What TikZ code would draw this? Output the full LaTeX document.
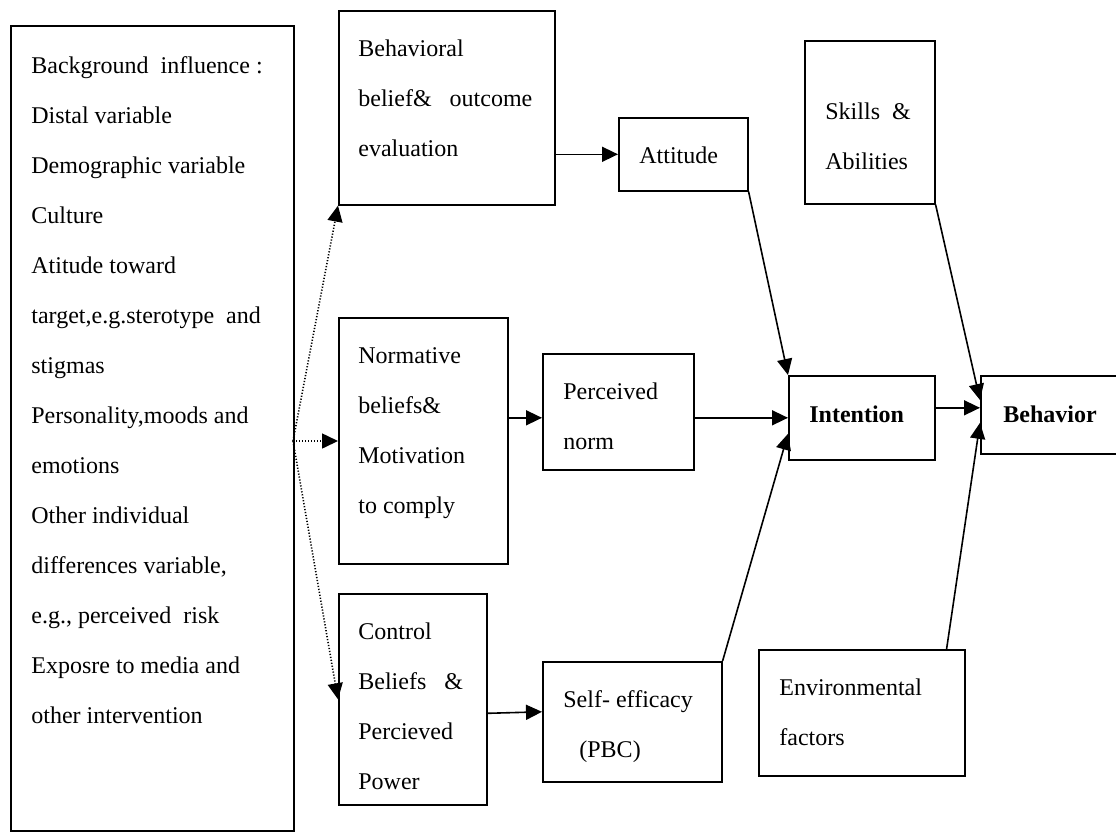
\documentclass[tikz,border=0pt]{standalone}
\usepackage{fontspec}
\setmainfont{Liberation Serif}
\usetikzlibrary{arrows.meta, positioning}

\tikzset{
  box/.style={draw, line width=0.8pt, rectangle, inner sep=0pt, anchor=north west},
  txt/.style={anchor=base west, inner sep=0pt, align=left, font=\fontsize{12pt}{25pt}\selectfont},
  link/.style={line width=0.8pt, -{Triangle[length=8pt,width=7.5pt]}},
  hint/.style={link, dash pattern=on 0.6pt off 0.9pt}
}

\begin{document}
\begin{tikzpicture}[x=0.5pt, y=-0.5pt]
  \useasboundingbox (0,0) rectangle (1116,832);

  % Draw boxes
  \node[box, minimum width=141.5pt, minimum height=402.5pt] (bg) at (10,25) {};
  \node[box, minimum width=108pt, minimum height=97pt] (bb) at (338,10) {};
  \node[box, minimum width=64.5pt, minimum height=36.5pt] (att) at (618,117) {};
  \node[box, minimum width=65pt, minimum height=81.5pt] (skill) at (804,40) {};
  \node[box, minimum width=84.5pt, minimum height=123pt] (norm) at (338,317) {};
  \node[box, minimum width=75.5pt, minimum height=58pt] (pnorm) at (542,353) {};
  \node[box, minimum width=74pt, minimum height=105.5pt] (ctrl) at (338,593) {};
  \node[box, minimum width=89.5pt, minimum height=60pt] (self) at (542,661) {};
  \node[box, minimum width=73pt, minimum height=42pt] (intent) at (788,375) {};
  \node[box, minimum width=68pt, minimum height=39pt] (behav) at (980,375) {};
  \node[box, minimum width=103pt, minimum height=63pt] (env) at (758,649) {};

  % Texts in the boxes (placed at the baseline of their last line)
  \node[txt] (bgtext) at (31,723) {Background\ \ influence :\\Distal variable\\Demographic variable\\Culture\\Atitude toward\\target,e.g.sterotype\ \ and\\stigmas\\Personality,moods and\\emotions\\Other individual\\differences variable,\\e.g., perceived\ \ risk\\Exposre to media and\\other intervention};
  \node[txt] (bbtext) at (358,156) {Behavioral\\belief\&\ \ \ outcome\\evaluation};
  \node[txt] (atttext) at (639,163) {Attitude};
  \node[txt] (skilltext) at (825,169) {Skills\ \ \&\\Abilities};
  \node[txt] (normtext) at (358,513) {Normative\\beliefs\&\\Motivation\\to comply};
  \node[txt] (pnormtext) at (563,449) {Perceived\\norm};
  \node[txt] (ctrltext) at (358,789) {Control\\Beliefs\ \ \ \&\\Percieved\\Power};
  \node[txt] (selftext) at (563,757) {Self- efficacy\\\ \ \,(PBC)};
  \node[txt, font=\fontsize{12pt}{25pt}\selectfont\bfseries] (intenttext) at (809,422) {Intention};
  \node[txt, font=\fontsize{12pt}{25pt}\selectfont\bfseries] (behavtext) at (1003,422) {Behavior};
  \node[txt] (envtext) at (779,745) {Environmental\\factors};

  % Dotted arrows from the background box
  \coordinate (fork) at (293,441);
  \draw[hint] (fork) -- (bb.south west);
  \draw[hint] (fork) -- (fork -| norm.west);
  \draw[hint] (fork) -- (ctrl.west);

  % Solid arrows
  \draw[link] (att.west -| bb.east) -- (att.west);
  \draw[link] (norm.east |- intent.west) -- (pnorm.west |- intent.west);
  \draw[link] ([yshift=-7pt]ctrl.east) -- ([yshift=5pt]self.west);
  \draw[link] (att.south east) -- (intent.north west);
  \draw[link] (pnorm.east |- intent.west) -- (intent.west);
  \draw[link] (self.north east) -- ([yshift=-8pt]intent.west);
  \draw[link] ([yshift=5pt]intent.east) -- ([yshift=5pt]intent.east -| behav.west);
  \draw[link] (skill.south east) -- ([yshift=-12.5pt]behav.north west);
  \draw[link] ([xshift=-9.5pt]env.north east) -- ([yshift=-4pt]behav.west);

\end{tikzpicture}
\end{document}
